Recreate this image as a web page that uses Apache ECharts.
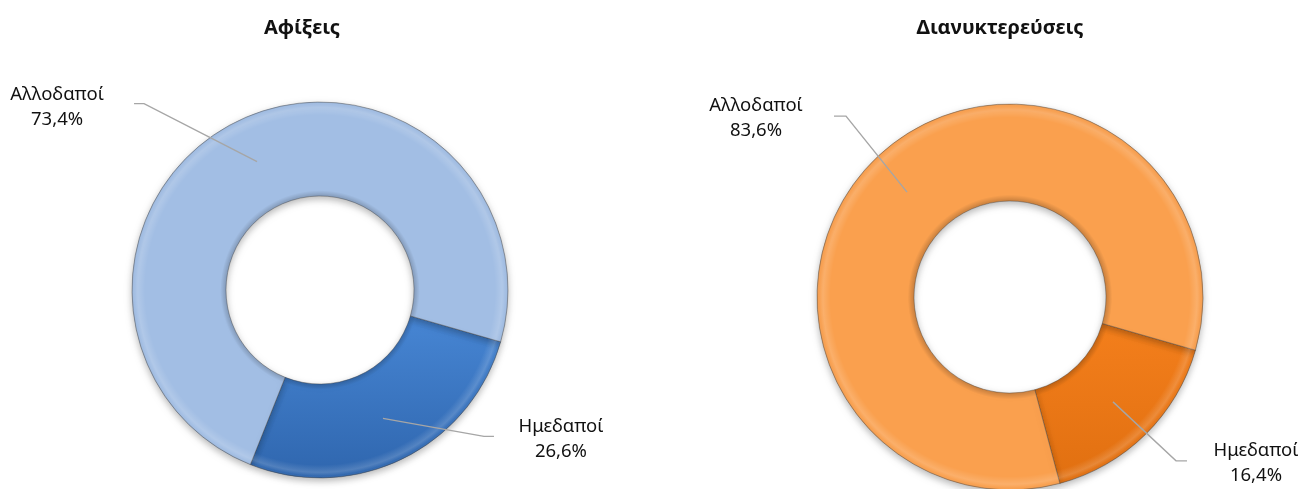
<!DOCTYPE html>
<html>
<head>
<meta charset="utf-8">
<script src="https://cdn.jsdelivr.net/npm/echarts@6/dist/echarts.min.js"></script>
<style>
html,body{margin:0;padding:0;background:#fff;}
#chart{width:1306px;height:489px;}
</style>
</head>
<body>
<div id="chart"></div>
<script>
// ---- data ----
const categories = ['Ημεδαποί', 'Αλλοδαποί'];
const arrivals = [26.6, 73.4];
const nights = [16.4, 83.6];
const chartTitles = ['Αφίξεις', 'Διανυκτερεύσεις'];

// ---- styles / layout ----
const FONT = '"Noto Sans", "Open Sans", sans-serif';
const pies = [
  { center: [320, 290], outer: 188, inner: 94, labelR: 143, titleX: 297,
    colors: [
      { type: 'linear', x: 0, y: 315, x2: 0, y2: 478, global: true,
        colorStops: [{ offset: 0, color: '#4786D4' }, { offset: 1, color: '#2F66AE' }] },
      '#A2BEE4'
    ],
    geom: [
      { seg: [101, 18], tail: 10, text: [67, 3] },
      { seg: [-113, -58], tail: -10, text: [-77, 4] }
    ]
  },
  { center: [1010, 297], outer: 193, inner: 96, labelR: 147, titleX: 995,
    colors: [
      { type: 'linear', x: 0, y: 320, x2: 0, y2: 489, global: true,
        colorStops: [{ offset: 0, color: '#F47F1C' }, { offset: 1, color: '#E06F10' }] },
      '#FAA04E'
    ],
    geom: [
      { seg: [63, 59], tail: 11, text: [69, 2] },
      { seg: [-61, -76], tail: -12, text: [-78, 2] }
    ]
  }
];
const datasets = [arrivals, nights];

function fmt(v) { return v.toFixed(1).replace('.', ',') + '%'; }

const series = [];
const titles = [];
pies.forEach((p, i) => {
  const vals = datasets[i];
  titles.push({
    text: chartTitles[i], left: p.titleX, top: 13, textAlign: 'center',
    textStyle: { fontFamily: FONT, fontSize: 20, fontWeight: 'bold', color: '#111' }
  });
  // main ring
  series.push({
    type: 'pie', center: p.center, radius: [p.inner, p.outer], startAngle: -16,
    clockwise: true, silent: true, animation: false, label: { show: false }, labelLine: { show: false },
    emphasis: { disabled: true },
    itemStyle: { borderColor: 'rgba(70,70,70,0.4)', borderWidth: 1,
      shadowBlur: 7, shadowOffsetY: 3, shadowColor: 'rgba(0,0,0,0.28)' },
    data: categories.map((c, k) => ({ name: c, value: vals[k], itemStyle: { color: p.colors[k] } }))
  });
  // bevel overlay
  series.push({
    type: 'pie', center: p.center, radius: [p.inner, p.outer], startAngle: -16,
    silent: true, animation: false, label: { show: false }, labelLine: { show: false },
    emphasis: { disabled: true },
    itemStyle: {
      color: { type: 'radial', x: p.center[0], y: p.center[1], r: p.outer, global: true,
        colorStops: [
          { offset: 0.5, color: 'rgba(0,0,0,0.18)' },
          { offset: 0.53, color: 'rgba(0,0,0,0)' },
          { offset: 0.93, color: 'rgba(255,255,255,0)' },
          { offset: 0.97, color: 'rgba(255,255,255,0.16)' },
          { offset: 0.99, color: 'rgba(255,255,255,0.02)' },
          { offset: 1, color: 'rgba(0,0,0,0.15)' }
        ] }
    },
    data: [{ value: 1, name: 'bevel' }]
  });
  // label carrier (transparent)
  series.push({
    type: 'pie', center: p.center, radius: [0, p.labelR], startAngle: -16, clockwise: true,
    silent: true, animation: false, z: 5, avoidLabelOverlap: false,
    emphasis: { disabled: true },
    itemStyle: { color: 'rgba(0,0,0,0)' },
    label: {
      show: true, position: 'outside',
      formatter: (prm) => prm.name + '\n' + fmt(prm.value),
      fontFamily: FONT, fontSize: 18.5, lineHeight: 25, color: '#111', align: 'center'
    },
    labelLine: { show: true, length: 20, length2: 10, lineStyle: { color: '#A6A6A6', width: 1.4 } },
    labelLayout: function (prm) {
      const g = p.geom[prm.dataIndex];
      const pts = prm.labelLinePoints;
      if (!pts || !pts.length) return {};
      const s = pts[0];
      const m = [s[0] + g.seg[0], s[1] + g.seg[1]];
      const e = [m[0] + g.tail, m[1]];
      return {
        x: e[0] + g.text[0], y: e[1] + g.text[1], align: 'center', verticalAlign: 'middle',
        labelLinePoints: [s, m, e]
      };
    },
    data: categories.map((c, k) => ({ name: c, value: vals[k] }))
  });
});

const chart = echarts.init(document.getElementById('chart'), null, { renderer: 'canvas' });
chart.setOption({ backgroundColor: '#ffffff', animation: false, title: titles, series: series });
</script>
</body>
</html>
